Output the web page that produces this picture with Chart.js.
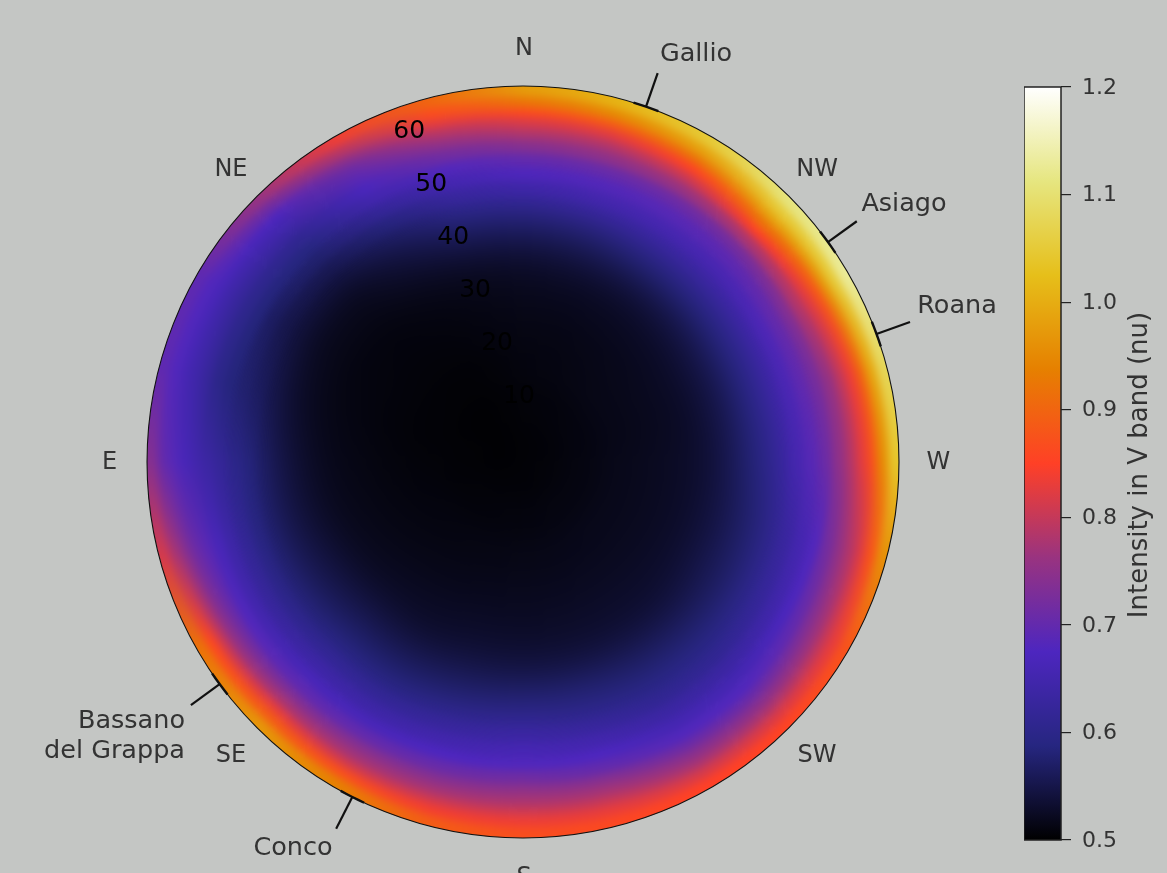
<!DOCTYPE html>
<html><head><meta charset="utf-8">
<style>
html,body{margin:0;padding:0;background:#c4c6c4;width:1167px;height:873px;overflow:hidden}
canvas{display:block}
.clip{position:absolute;left:119px;top:58px;width:808px;height:808px;clip-path:circle(376px at 404px 404px)}
#skyBlur{width:808px;height:808px;filter:blur(4.5px)}
#softClip{-webkit-mask-image:radial-gradient(circle at 404px 404px,#000 255px,transparent 300px);mask-image:radial-gradient(circle at 404px 404px,#000 255px,transparent 300px)}
#softBlur{width:808px;height:808px;filter:blur(13px)}
#bar{position:absolute;left:1024px;top:0;filter:blur(.4px)}
#over{position:absolute;left:0;top:0;filter:blur(.4px)}
</style>
<script src="https://cdn.jsdelivr.net/npm/chart.js@4"></script>
</head><body>
<div class="clip"><div id="skyBlur"><canvas id="sky" width="808" height="808"></canvas></div></div>
<div class="clip" id="softClip"><div id="softBlur"><canvas id="skySoft" width="808" height="808"></canvas></div></div>
<canvas id="bar" width="143" height="873"></canvas>
<canvas id="over" width="1167" height="873"></canvas>
<script>
// Azimuth sectors, clockwise on screen starting from N (N, then towards NW, W, SW, S, SE, E, NE)
const azimuths = [0,15,30,45,60,75,90,105,120,135,150,165,180,195,210,225,240,255,270,285,300,315,330,345];
// Zenith band edges in degrees, centre to horizon
const zenithEdges = [0,7,13.9,20.6,26.1,31,35,38.7,42.5,46,49,51.6,54,56.3,58.2,60.1,61.8,63.8,70.4];
// Intensity (nu) per azimuth, one value per zenith band
const az000=[.504,.506,.51,.513,.518,.525,.54,.565,.60,.64,.675,.70,.74,.78,.815,.86,.92,.975];
const az015=[.505,.507,.511,.514,.519,.528,.545,.57,.61,.65,.68,.705,.75,.785,.825,.885,.95,1.01];
const az030=[.505,.508,.513,.516,.521,.53,.55,.58,.62,.655,.685,.71,.76,.805,.855,.92,.985,1.05];
const az045=[.505,.509,.515,.518,.524,.535,.555,.585,.625,.66,.69,.72,.78,.85,.92,.99,1.05,1.11];
const az060=[.505,.51,.516,.52,.526,.54,.56,.59,.625,.67,.70,.735,.785,.825,.88,.97,1.05,1.13];
const az075=[.505,.51,.516,.52,.526,.54,.56,.59,.625,.665,.695,.72,.755,.795,.835,.90,.99,1.08];
const az090=[.506,.511,.518,.522,.528,.54,.56,.585,.615,.655,.685,.71,.75,.785,.825,.87,.95,1.04];
const az105=[.506,.511,.518,.522,.528,.54,.555,.575,.60,.63,.655,.68,.72,.755,.785,.82,.875,.96];
const az120=[.506,.511,.518,.522,.528,.54,.555,.57,.595,.62,.645,.67,.70,.735,.765,.80,.83,.875];
const az135=[.506,.511,.518,.522,.528,.535,.55,.57,.59,.61,.635,.655,.68,.71,.745,.78,.82,.855];
const az150=[.505,.511,.517,.522,.528,.535,.55,.57,.59,.61,.635,.655,.68,.71,.745,.775,.815,.85];
const az165=[.505,.51,.516,.521,.527,.535,.55,.575,.595,.625,.65,.675,.70,.74,.77,.80,.83,.86];
const az180=[.505,.509,.515,.52,.526,.535,.55,.575,.605,.635,.66,.68,.715,.75,.775,.805,.835,.87];
const az195=[.505,.509,.514,.519,.526,.535,.55,.57,.595,.625,.65,.675,.705,.74,.77,.805,.84,.89];
const az210=[.505,.508,.513,.517,.524,.53,.545,.565,.585,.615,.64,.665,.70,.74,.77,.81,.87,.94];
const az225=[.504,.507,.511,.515,.521,.53,.545,.565,.585,.615,.64,.665,.695,.735,.775,.83,.89,.97];
const az240=[.504,.506,.51,.513,.518,.525,.54,.555,.575,.60,.625,.65,.68,.715,.75,.80,.86,.92];
const az255=[.503,.505,.508,.511,.515,.52,.53,.545,.565,.59,.615,.64,.665,.69,.71,.74,.775,.815];
const az270=[.503,.504,.506,.509,.513,.517,.525,.54,.56,.585,.60,.62,.635,.65,.665,.685,.70,.74];
const az285=[.503,.504,.505,.507,.51,.513,.518,.528,.545,.565,.575,.585,.60,.625,.645,.66,.68,.695];
const az300=[.503,.503,.505,.507,.509,.51,.515,.52,.535,.55,.565,.585,.605,.625,.645,.665,.68,.695];
const az315=[.503,.503,.504,.506,.508,.51,.515,.52,.535,.555,.575,.59,.61,.635,.655,.675,.715,.76];
const az330=[.503,.503,.504,.507,.51,.515,.525,.54,.56,.585,.62,.65,.67,.69,.71,.745,.79,.835];
const az345=[.504,.504,.506,.51,.514,.52,.535,.56,.59,.625,.655,.68,.715,.75,.785,.825,.865,.90];
const intensity=[az000,az015,az030,az045,az060,az075,az090,az105,az120,az135,az150,az165,az180,az195,az210,az225,az240,az255,az270,az285,az300,az315,az330,az345];

const compassNames=['N','NW','W','SW','S','SE','E','NE'];
const compassAz=[0,45,90,135,180,225,270,315];
const zenithTicks=[10,20,30,40,50,60];
const townAz=[19.1,54.2,70.1,233.8,207];
const barTicks=[0.5,0.6,0.7,0.8,0.9,1.0,1.1,1.2];
const barTitle='Intensity in V band (nu)';

const vMin=0.5,vMax=1.2,zenithMax=65.5;
// CMRmap colour stops
const cmap=[[0,0,0],[.15,.15,.5],[.3,.15,.75],[.6,.2,.5],[1,.25,.15],[.9,.5,0],[.9,.75,.1],[.9,.9,.5],[1,1,1]];
function colourOf(v){
  const t=Math.min(1,Math.max(0,(v-vMin)/(vMax-vMin)))*(cmap.length-1);
  const i=Math.min(cmap.length-2,Math.floor(t)),f=t-i;
  const c=cmap[i].map((a,k)=>Math.round(255*(a+(cmap[i+1][k]-a)*f)));
  return `rgb(${c[0]},${c[1]},${c[2]})`;
}
// Sky: one doughnut ring per zenith band; first dataset is the outermost ring.
// Each ring is painted with a conic gradient whose stops are that band's readings.
function drawSky(id){
  const canvas=document.getElementById(id);
  const ctx2d=canvas.getContext('2d');
  const rings=[];
  for(let b=zenithEdges.length-2;b>=0;b--){
    const g=ctx2d.createConicGradient(-Math.PI/2,404,404);
    intensity.forEach((row,i)=>g.addColorStop(azimuths[i]/360,colourOf(row[b])));
    g.addColorStop(1,colourOf(intensity[0][b]));
    rings.push({data:azimuths.map(()=>1),weight:zenithEdges[b+1]-zenithEdges[b],
      backgroundColor:g,borderColor:g,borderWidth:1});
  }
  new Chart(canvas,{type:'doughnut',
    data:{labels:azimuths.map(String),datasets:rings},
    options:{responsive:false,animation:false,cutout:0,rotation:-7.5,
      layout:{padding:0},plugins:{legend:{display:false},tooltip:{enabled:false}}}});
}
drawSky('sky');
drawSky('skySoft');

// Colour bar
new Chart(document.getElementById('bar'),{type:'bar',
  data:{labels:[''],datasets:[{data:[[vMin,vMax]],barPercentage:1,categoryPercentage:1,
    backgroundColor(ctx){
      const a=ctx.chart.chartArea; if(!a) return '#000';
      const g=ctx.chart.ctx.createLinearGradient(0,a.bottom,0,a.top);
      cmap.forEach((c,i)=>g.addColorStop(i/(cmap.length-1),`rgb(${c.map(x=>Math.round(x*255)).join(',')})`));
      return g;
    }}]},
  options:{responsive:false,animation:false,layout:{padding:{top:87,bottom:33,left:0,right:0}},
    plugins:{legend:{display:false},tooltip:{enabled:false}},
    scales:{
      x:{display:false},
      y:{position:'right',min:vMin,max:vMax,afterFit(s){s.width=106},
        afterBuildTicks(s){s.ticks=barTicks.map(v=>({value:v}))},
        border:{display:false},
        grid:{drawOnChartArea:false,drawTicks:true,tickLength:10,tickColor:'#222',lineWidth:1.2},
        ticks:{padding:11,labelOffset:1,color:'#333',font:{family:'DejaVu Sans',size:22},callback:v=>v.toFixed(1)}}
    }},
  plugins:[{id:'frame',afterDraw(c){const a=c.chartArea,x=c.ctx;x.save();x.strokeStyle='#222';x.lineWidth=1.5;
    x.strokeRect(a.left,a.top,a.right-a.left,a.bottom-a.top);x.restore();}}]});

// Overlay: horizon circle, town ticks and labels on linear scales in zenith degrees
const pxPerDeg=5.74;
const polar=(z,az)=>({x:z*Math.sin(az*Math.PI/180),y:z*Math.cos(az*Math.PI/180)});
const townLines=townAz.map(az=>({data:[polar(zenithMax,az),polar(71.7,az)],showLine:true,borderColor:'#111',borderWidth:2.2,pointRadius:0}));
const townHugs=townAz.map(az=>({data:[-2,-1,0,1,2].map(d=>polar(zenithMax,az+d)),showLine:true,borderColor:'#111',borderWidth:2.4,pointRadius:0}));
const overlayText={id:'overlayText',afterDatasetsDraw(c){
  const x=c.ctx,sx=c.scales.x,sy=c.scales.y,px=p=>[sx.getPixelForValue(p.x),sy.getPixelForValue(p.y)];
  const [cx,cy]=px({x:0,y:0});
  x.save();
  x.strokeStyle='#111';x.lineWidth=1.1;x.beginPath();x.arc(cx,cy,zenithMax*pxPerDeg,0,2*Math.PI);x.stroke();
  x.textAlign='center';x.textBaseline='middle';x.fillStyle='#333';x.font='24px "DejaVu Sans"';
  compassNames.forEach((n,i)=>{const [a,b]=px(polar(72.2,compassAz[i]));x.fillText(n,a+1,b+1);});
  x.font='25.5px "DejaVu Sans"';
  x.fillText('Gallio',696,54);x.fillText('Asiago',904,204);x.fillText('Roana',957,306);x.fillText('Conco',293,848);
  x.textAlign='right';x.fillText('Bassano',185,721);x.fillText('del Grappa',185,751);
  x.textAlign='center';x.fillStyle='#000';x.font='25px "DejaVu Sans"';
  zenithTicks.forEach(z=>{const [a,b]=px(polar(z,-22.5));x.fillText(String(z),a+18,b-12);});
  x.fillStyle='#333';x.font='26px "DejaVu Sans"';
  x.translate(1140,465);x.rotate(-Math.PI/2);x.fillText(barTitle,0,0);
  x.restore();
}};
new Chart(document.getElementById('over'),{type:'scatter',
  data:{datasets:[...townLines,...townHugs]},
  options:{responsive:false,animation:false,layout:{padding:0},
    plugins:{legend:{display:false},tooltip:{enabled:false}},
    scales:{x:{display:false,min:-523/pxPerDeg,max:(1167-523)/pxPerDeg},
            y:{display:false,min:-(873-462)/pxPerDeg,max:462/pxPerDeg}}},
  plugins:[overlayText]});
</script>
</body></html>
